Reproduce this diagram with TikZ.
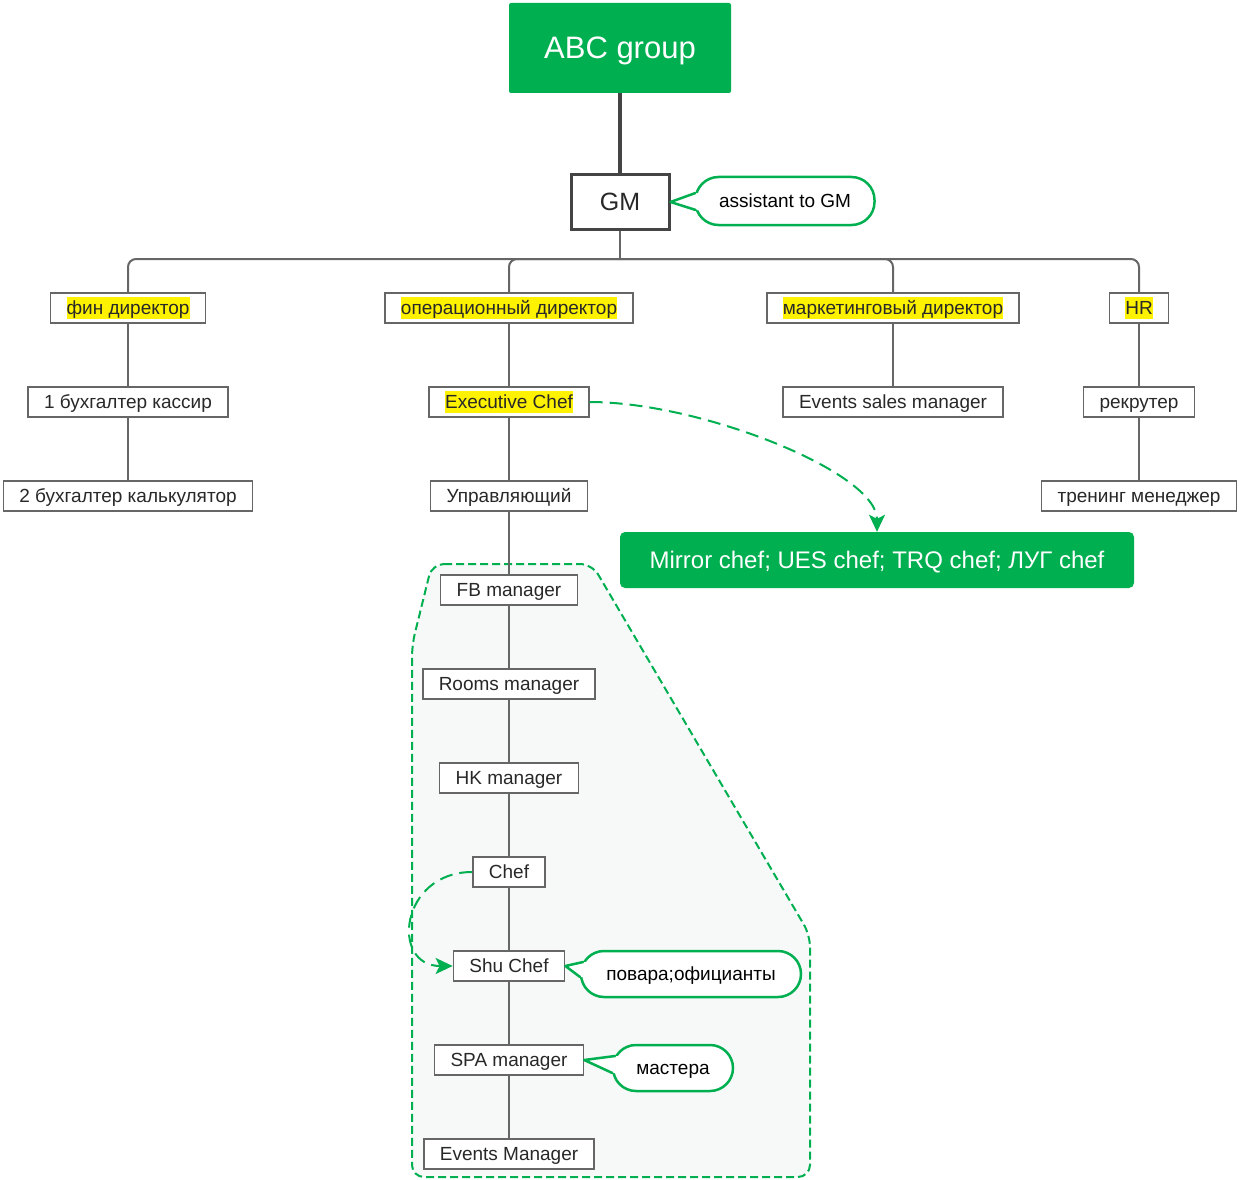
\documentclass[tikz,border=0pt]{standalone}
\usepackage{fontspec}
\setmainfont{Liberation Sans}
\usepackage{tikz}
\usetikzlibrary{arrows.meta,calc}
\definecolor{abcgreen}{RGB}{0,175,80}
\definecolor{boxgray}{RGB}{102,102,102}
\definecolor{darkline}{RGB}{68,68,68}
\definecolor{txtgray}{RGB}{40,40,40}
\definecolor{zonefill}{RGB}{247,249,249}
\newcommand{\boxstrut}{\rule[-4.2pt]{0pt}{22pt}}
\newcommand{\hlt}[1]{{\setlength{\fboxsep}{0pt}\colorbox{yellow}{\boxstrut #1}}}

\begin{document}
\begin{tikzpicture}[x=1pt,y=-1pt,
  box/.style={draw=boxgray, line width=1.5, fill=white, text=txtgray, inner xsep=16, inner ysep=2,
    minimum height=30, font=\fontsize{19}{22}\selectfont, execute at begin node=\boxstrut},
  conn/.style={draw=boxgray, line width=2, rounded corners=8},
  pill/.style={draw=abcgreen, line width=2.5, fill=white, rounded corners=23, minimum height=46,
    font=\fontsize{19}{22}\selectfont, text height=16.5, text depth=4},
  tail/.style={draw=abcgreen, line width=2.5, line join=round, line cap=round},
  greenbox/.style={fill=abcgreen, text=white},
  link/.style={draw=abcgreen, line width=2, dash pattern=on 13pt off 7pt, -{Stealth[length=17pt,width=16pt,inset=4pt]}}]
\useasboundingbox (0,0) rectangle (1240,1180);
%\node {\includegraphics{orgchart.png}};

% kitchen / rooms zone
\draw[abcgreen, line width=2, dash pattern=on 8pt off 4pt, fill=zonefill, rounded corners=12]
  (432,564) -- (592,564) -- (810,935) -- (810,1177) -- (412,1177) -- (412,645) -- cycle;

% top
\node[greenbox, minimum width=222, minimum height=90, rounded corners=2, text height=26, text depth=4,
  font=\fontsize{31}{36}\selectfont] (abc) at (620,48) {ABC group};
\node[draw=darkline, line width=3, fill=white, text=txtgray, minimum width=98, minimum height=54,
  text height=21, text depth=3, font=\fontsize{25}{30}\selectfont] (gm) at (620,202) {GM};
\draw[darkline, line width=4] (abc) -- (gm);
\node[pill, minimum width=179, minimum height=48] (asst) at (785,201) {assistant to GM};
\fill[white] (gm.east) -- ($(asst.west)+(1.2,-8)$) -- ($(asst.west)+(5,-8)$) -- ($(asst.west)+(5,9)$) -- ($(asst.west)+(1.5,9)$) -- cycle;
\draw[tail] ($(asst.west)+(1.2,-8)$) -- (gm.east) -- ($(asst.west)+(1.5,9)$);

% directors
\node[box] (fin) at (128,308) {\hlt{фин директор}};
\node[box] (oper) at (509,308) {\hlt{операционный директор}};
\node[box] (mark) at (893,308) {\hlt{маркетинговый директор}};
\node[box] (hr) at (1139,308) {\hlt{HR}};
\coordinate (bus) at (620,259);
\draw[conn] (gm) -- (bus);
\draw[conn] (bus) -| (fin.north);
\draw[conn] (bus) -| (oper.north);
\draw[conn] (bus) -| (mark.north);
\draw[conn] (bus) -| (hr.north);

% second and third rows
\node[box] (kassir) at (128,402) {1 бухгалтер кассир};
\node[box] (exec) at (509,402) {\hlt{Executive Chef}};
\node[box] (esales) at (893,402) {Events sales manager};
\node[box] (recr) at (1139,402) {рекрутер};
\node[box] (kalk) at (128,496) {2 бухгалтер калькулятор};
\node[box] (upr) at (509,496) {Управляющий};
\node[box] (train) at (1139,496) {тренинг менеджер};
\draw[conn] (fin) -- (kassir);
\draw[conn] (kassir) -- (kalk);
\draw[conn] (oper) -- (exec);
\draw[conn] (exec) -- (upr);
\draw[conn] (mark) -- (esales);
\draw[conn] (hr) -- (recr);
\draw[conn] (recr) -- (train);

% hotel chain
\node[box] (fb) at (509,590) {FB manager};
\node[box] (rooms) at (509,684) {Rooms manager};
\node[box] (hk) at (509,778) {HK manager};
\node[box] (chef) at (509,872) {Chef};
\node[box] (shu) at (509,966) {Shu Chef};
\node[box] (spa) at (509,1060) {SPA manager};
\node[box] (events) at (509,1154) {Events Manager};
\draw[conn] (upr) -- (fb);
\draw[conn] (fb) -- (rooms);
\draw[conn] (rooms) -- (hk);
\draw[conn] (hk) -- (chef);
\draw[conn] (chef) -- (shu);
\draw[conn] (shu) -- (spa);
\draw[conn] (spa) -- (events);

% callouts
\node[pill, minimum width=220] (cooks) at (691,974) {повара;официанты};
\fill[white] (shu.east) -- ($(cooks.west)+(3.4,-12)$) -- ($(cooks.west)+(7,-12)$) -- ($(cooks.west)+(7,3)$) -- ($(cooks.west)+(0.3,3)$) -- cycle;
\draw[tail] ($(cooks.west)+(3.4,-12)$) -- (shu.east) -- ($(cooks.west)+(0.3,3)$);
\node[pill, minimum width=120] (masters) at (673,1068) {мастера};
\fill[white] (spa.east) -- ($(masters.west)+(3.4,-12)$) -- ($(masters.west)+(7,-12)$) -- ($(masters.west)+(7,5)$) -- ($(masters.west)+(0.6,5)$) -- cycle;
\draw[tail] ($(masters.west)+(3.4,-12)$) -- (spa.east) -- ($(masters.west)+(0.6,5)$);

% other chefs
\node[greenbox, minimum width=514, minimum height=56, rounded corners=5, text height=20.6, text depth=3.4,
  font=\fontsize{24}{28}\selectfont] (mirror) at (877,560) {Mirror chef; UES chef; TRQ chef; ЛУГ chef};
\draw[link] (exec.east) .. controls (700,402) and (877,472) .. (mirror.north);
\draw[link] (chef.west) .. controls (400,872) and (390,966) .. (shu.west);
\end{tikzpicture}
\end{document}
